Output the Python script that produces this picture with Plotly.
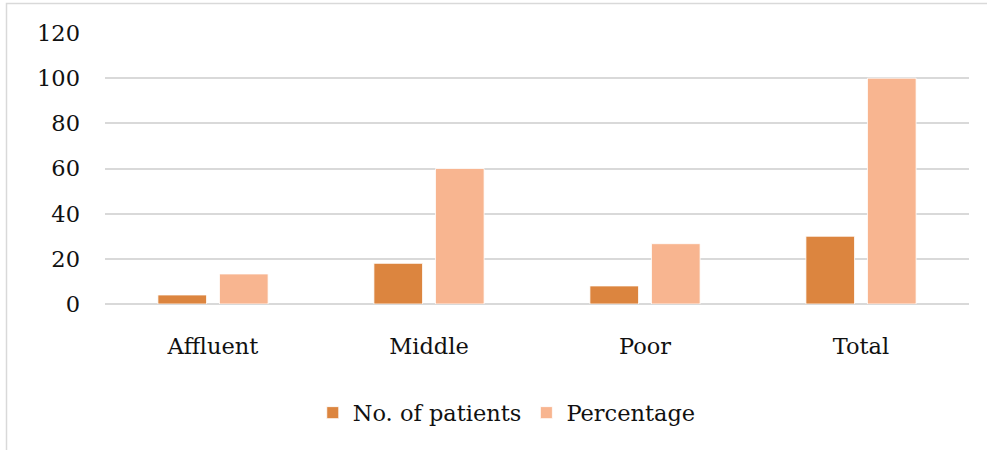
import plotly.graph_objects as go

categories = ["Affluent", "Middle", "Poor", "Total"]
patients = [4, 18, 8, 30]
percentage = [13.3, 60, 26.7, 100]
y_ticks = [0, 20, 40, 60, 80, 100, 120]

W, H = 987, 450
L, R, T, B = 105, 18, 33, 146
pw, ph = W - L - R, H - T - B

def px_x(p):
    return (p - L) / pw

def px_y(p):
    return (H - B - p) / ph

font_family = "DejaVu Serif, Liberation Serif, serif"
fsize = 22.5

fig = go.Figure()
fig.add_trace(go.Bar(
    name="No. of patients", x=categories, y=patients,
    marker=dict(color="#DC853F", line=dict(color="#FFFFFF", width=0.8)),
))
fig.add_trace(go.Bar(
    name="Percentage", x=categories, y=percentage,
    marker=dict(color="#F8B590", line=dict(color="#FFFFFF", width=0.8)),
))

fig.update_layout(
    width=W, height=H,
    margin=dict(l=L, r=R, t=T, b=B),
    paper_bgcolor="white", plot_bgcolor="white",
    barmode="group", bargap=0.43, bargroupgap=0.21,
    font=dict(family=font_family, size=fsize, color="#111111"),
    showlegend=True,
    legend=dict(orientation="h", x=0.465, xanchor="center", y=px_y(413), yanchor="middle",
                font=dict(size=fsize), itemwidth=30, traceorder="normal"),
    xaxis=dict(showgrid=False, showline=False, ticks="", tickfont=dict(size=fsize),
               ticklabelstandoff=26),
    yaxis=dict(range=[0, 120], tickvals=y_ticks, showgrid=True, gridcolor="#D9D9D9",
               gridwidth=1.5, zeroline=True, zerolinecolor="#D9D9D9", zerolinewidth=1.5,
               showline=False, ticks="", tickfont=dict(size=fsize), ticklabelstandoff=24),
    shapes=[dict(type="rect", xref="paper", yref="paper",
                 x0=px_x(6.5), x1=px_x(1000), y0=px_y(470), y1=px_y(3.5),
                 line=dict(color="#D9D9D9", width=1.5), fillcolor="rgba(0,0,0,0)", layer="below")],
)

fig.write_html("out.html")
